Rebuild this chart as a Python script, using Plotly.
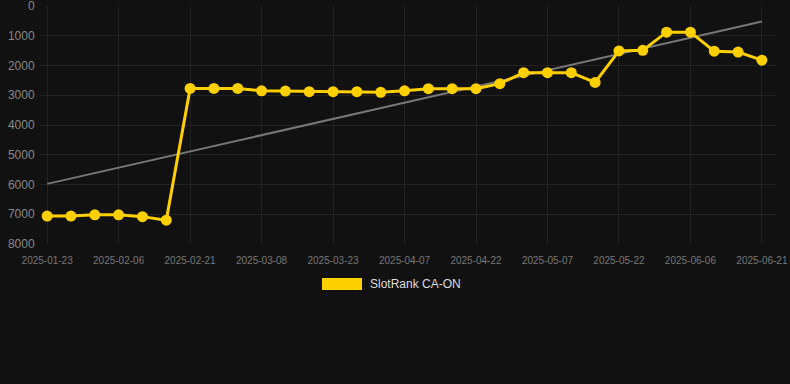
import numpy as np
import plotly.graph_objects as go

dates = ["2025-01-23", "2025-01-28", "2025-02-01", "2025-02-06", "2025-02-11", "2025-02-16",
         "2025-02-21", "2025-02-26", "2025-03-03", "2025-03-08", "2025-03-13", "2025-03-18",
         "2025-03-23", "2025-03-28", "2025-04-02", "2025-04-07", "2025-04-12", "2025-04-17",
         "2025-04-22", "2025-04-27", "2025-05-02", "2025-05-07", "2025-05-12", "2025-05-17",
         "2025-05-22", "2025-05-27", "2025-06-01", "2025-06-06", "2025-06-11", "2025-06-16",
         "2025-06-21"]
rank = [7060, 7060, 7020, 7020, 7080, 7200, 2770, 2770, 2770, 2850, 2860, 2880, 2880, 2880,
        2900, 2850, 2780, 2780, 2780, 2610, 2240, 2240, 2240, 2570, 1510, 1490, 880, 880,
        1520, 1550, 1820]
tick_dates = dates[::3]
y_ticks = [0, 1000, 2000, 3000, 4000, 5000, 6000, 7000, 8000]
series_name = "SlotRank CA-ON"

idx = np.arange(len(rank))
slope, intercept = np.polyfit(idx, rank, 1)
trend = (slope * idx + intercept).tolist()

fig = go.Figure()
fig.add_trace(go.Scatter(x=dates, y=trend, mode="lines",
                         line=dict(color="#777777", width=2), showlegend=False,
                         hoverinfo="skip"))
fig.add_trace(go.Scatter(x=dates, y=rank, mode="lines+markers", name=series_name,
                         line=dict(color="#FFD000", width=3),
                         marker=dict(color="#FFD000", size=11), showlegend=False))

L, R, T, B = 40, 15, 6, 140
fig.update_layout(
    width=790, height=384,
    margin=dict(l=L, r=R, t=T, b=B, autoexpand=False),
    paper_bgcolor="#111111", plot_bgcolor="#111111",
    font=dict(family="Liberation Sans, Arial, sans-serif", color="#888888"),
    xaxis=dict(type="category", categoryorder="array", categoryarray=dates,
               tickvals=tick_dates, ticktext=tick_dates, range=[-0.3, 30.55],
               showgrid=True, gridcolor="#222222", gridwidth=1, zeroline=False,
               tickfont=dict(size=10, color="#777777"), ticks="outside", ticklen=7,
               tickcolor="rgba(0,0,0,0)", showline=False, automargin=False,
               ticklabeloverflow="allow"),
    yaxis=dict(range=[8000, 0], tickvals=y_ticks, showgrid=True, gridcolor="#222222",
               zeroline=False, tickfont=dict(size=12, color="#888888"), ticks="outside",
               ticklen=2, tickcolor="rgba(0,0,0,0)", showline=False, automargin=False,
               ticklabeloverflow="allow"),
    showlegend=False,
)

plot_w = 790 - L - R
plot_h = 384 - T - B
def px_x(p):
    return (p - L) / plot_w
def px_y(p):
    return (384 - B - p) / plot_h

fig.add_shape(type="rect", xref="paper", yref="paper",
              x0=px_x(322), x1=px_x(362), y0=px_y(290), y1=px_y(278),
              fillcolor="#FFD000", line=dict(width=0))
fig.add_annotation(xref="paper", yref="paper", x=px_x(368), y=px_y(284),
                   text=series_name, showarrow=False, xanchor="left", yanchor="middle",
                   font=dict(size=12, color="#dddddd"))

fig.write_html("out.html", config={"displayModeBar": False},
               post_script="document.body.style.margin='0';"
                           "document.body.style.background='#111111';")
